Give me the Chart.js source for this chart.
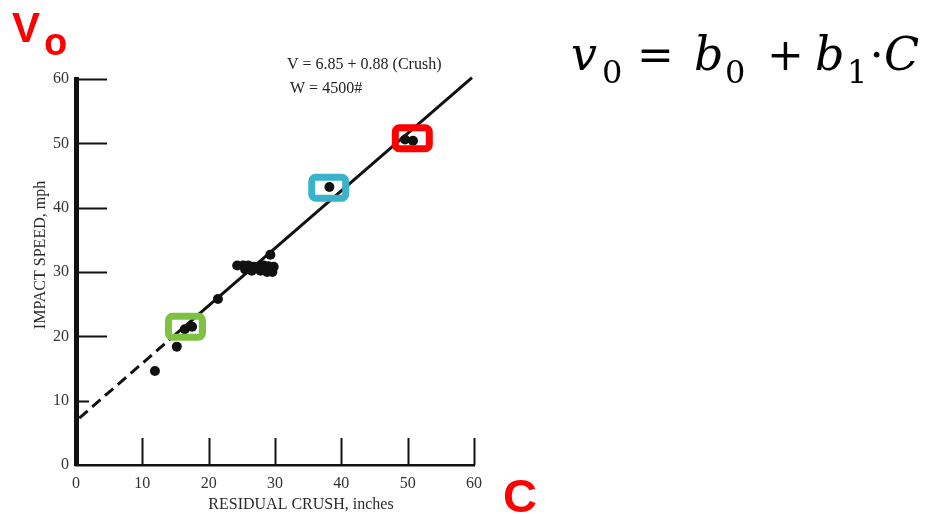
<!DOCTYPE html>
<html><head><meta charset="utf-8">
<script src="https://cdn.jsdelivr.net/npm/chart.js@4.4.0/dist/chart.umd.min.js"></script>
<style>html,body{margin:0;padding:0;background:#fff;overflow:hidden}#wrap{width:934px;height:514px;position:relative}</style>
</head><body><div id="wrap"><canvas id="c" width="934" height="514"></canvas></div>
<script>
// ---- data ----
const crushInches = [11.9, 15.2, 16.4, 17.5, 21.4,
  24.3, 25.2, 26.0, 26.8, 27.5, 28.3, 29.0, 29.8, 25.5, 26.5, 27.8, 28.8, 29.6, 29.3,
  38.2, 49.6, 50.8, 61.5];
const impactSpeedMph = [14.6, 18.4, 21.1, 21.5, 25.8,
  31.0, 31.0, 31.0, 30.8, 30.8, 31.0, 30.9, 30.8, 30.4, 30.2, 30.2, 30.0, 30.0, 32.7,
  43.2, 50.6, 50.4, 61.3];
const fitDashedX = [0.5, 14.0];
const fitDashedY = [7.3, 19.4];
const fitSolidX = [14.0, 59.7];
const fitSolidY = [19.4, 60.2];
const xTicks = [0, 10, 20, 30, 40, 50, 60];
const yTicks = [0, 10, 20, 30, 40, 50, 60];
const highlightX = [16.5, 38.1, 50.7];
const highlightY = [21.5, 43.1, 50.8];
const highlightColor = ['#7dc242', '#3bb2cb', '#ff0000'];
const xTitle = 'RESIDUAL CRUSH, inches';
const yTitle = 'IMPACT SPEED, mph';
const noteLines = ['V = 6.85 + 0.88 (Crush)', 'W = 4500#'];

const toPts = (xs, ys) => xs.map((x, i) => ({x, y: ys[i]}));
const serif = '"Liberation Serif", "Times New Roman", serif';
const mathSerif = '"DejaVu Serif", serif';

const decor = {
  id: 'decor',
  afterDraw(chart) {
    const c = chart.ctx, xs = chart.scales.x, ys = chart.scales.y;
    const L = chart.chartArea.left, B = chart.chartArea.bottom;
    c.save();
    c.strokeStyle = '#111'; c.lineWidth = 2;
    // inward y ticks
    yTicks.forEach(v => {
      if (v === 0) return;
      const p = Math.round(ys.getPixelForValue(v)) + 0.5;
      const len = v === 10 ? 13 : 31;
      c.beginPath(); c.moveTo(L, p); c.lineTo(L + len, p); c.stroke();
    });
    // inward x ticks
    xTicks.forEach(v => {
      if (v === 0) return;
      const p = Math.round(xs.getPixelForValue(v)) + 0.5;
      c.beginPath(); c.moveTo(p, B); c.lineTo(p, B - 27); c.stroke();
    });
    // highlight boxes
    highlightX.forEach((hx, i) => {
      const px = xs.getPixelForValue(hx), py = ys.getPixelForValue(highlightY[i]);
      c.strokeStyle = highlightColor[i]; c.lineWidth = 7;
      c.beginPath(); c.roundRect(px - 17, py - 10.5, 34, 21, 4); c.stroke();
    });
    // axis titles
    c.fillStyle = '#2a2a2a';
    c.font = '16px ' + serif; c.textAlign = 'center'; c.textBaseline = 'middle';
    c.fillText(xTitle, 301, 505);
    c.save(); c.translate(41, 255); c.rotate(-Math.PI / 2); c.fillText(yTitle, 0, 0); c.restore();
    // note
    c.textAlign = 'left'; c.font = '16px ' + serif; c.fillStyle = '#222';
    c.fillText(noteLines[0], 287, 65);
    c.fillText(noteLines[1], 290, 89);
    // red labels
    c.fillStyle = '#ff0000'; c.textBaseline = 'alphabetic';
    c.font = 'bold 42px "Liberation Sans", Arial, sans-serif';
    c.fillText('V', 12, 42);
    c.font = 'bold 38px "Liberation Sans", Arial, sans-serif';
    c.fillText('o', 44, 55);
    c.font = 'bold 47px "Liberation Sans", Arial, sans-serif';
    c.fillText('C', 503, 512);
    // formula  v0 = b0 + b1 · C
    c.fillStyle = '#000';
    const it = 'italic 46px ' + mathSerif, up = '44px ' + mathSerif, sub = '32px ' + mathSerif;
    const parts = [
      ['v', it, 571, 70], ['0', sub, 602, 83], ['=', up, 637, 70],
      ['b', it, 694, 70], ['0', sub, 725, 83], ['+', up, 767, 70],
      ['b', it, 815, 70], ['1', sub, 847, 83], ['\u22c5', up, 869, 70], ['C', it, 884, 70]
    ];
    parts.forEach(([t, f, x, y]) => { c.font = f; c.fillText(t, x, y); });
    c.restore();
  }
};

const tickFont = {family: serif, size: 16};
new Chart(document.getElementById('c'), {
  type: 'scatter',
  data: {datasets: [
    {type: 'line', data: toPts(fitDashedX, fitDashedY), borderColor: '#111', borderWidth: 3,
     borderDash: [11, 6], pointRadius: 0, fill: false, clip: false},
    {type: 'line', data: toPts(fitSolidX, fitSolidY), borderColor: '#111', borderWidth: 3,
     pointRadius: 0, fill: false, clip: false},
    {data: toPts(crushInches, impactSpeedMph), backgroundColor: '#111', borderWidth: 0,
     pointRadius: 5, clip: false}
  ]},
  options: {
    responsive: false, animation: false, events: [],
    layout: {padding: {left: 0, top: 79, right: 460, bottom: 0}},
    plugins: {legend: {display: false}, tooltip: {enabled: false}},
    scales: {
      x: {type: 'linear', min: 0, max: 60,
        afterBuildTicks: s => { s.ticks = xTicks.map(v => ({value: v})); },
        afterFit: s => { s.height = 49; },
        grid: {display: false, drawTicks: false},
        border: {display: true, width: 2.5, color: '#111'},
        ticks: {padding: 9, font: tickFont, color: '#333', maxRotation: 0}},
      y: {type: 'linear', min: 0, max: 60,
        afterBuildTicks: s => { s.ticks = yTicks.map(v => ({value: v})); },
        afterFit: s => { s.width = 76; },
        grid: {display: false, drawTicks: false},
        border: {display: true, width: 5, color: '#111'},
        ticks: {padding: 7, font: tickFont, color: '#333'}}
    }
  },
  plugins: [decor]
});
</script></body></html>
